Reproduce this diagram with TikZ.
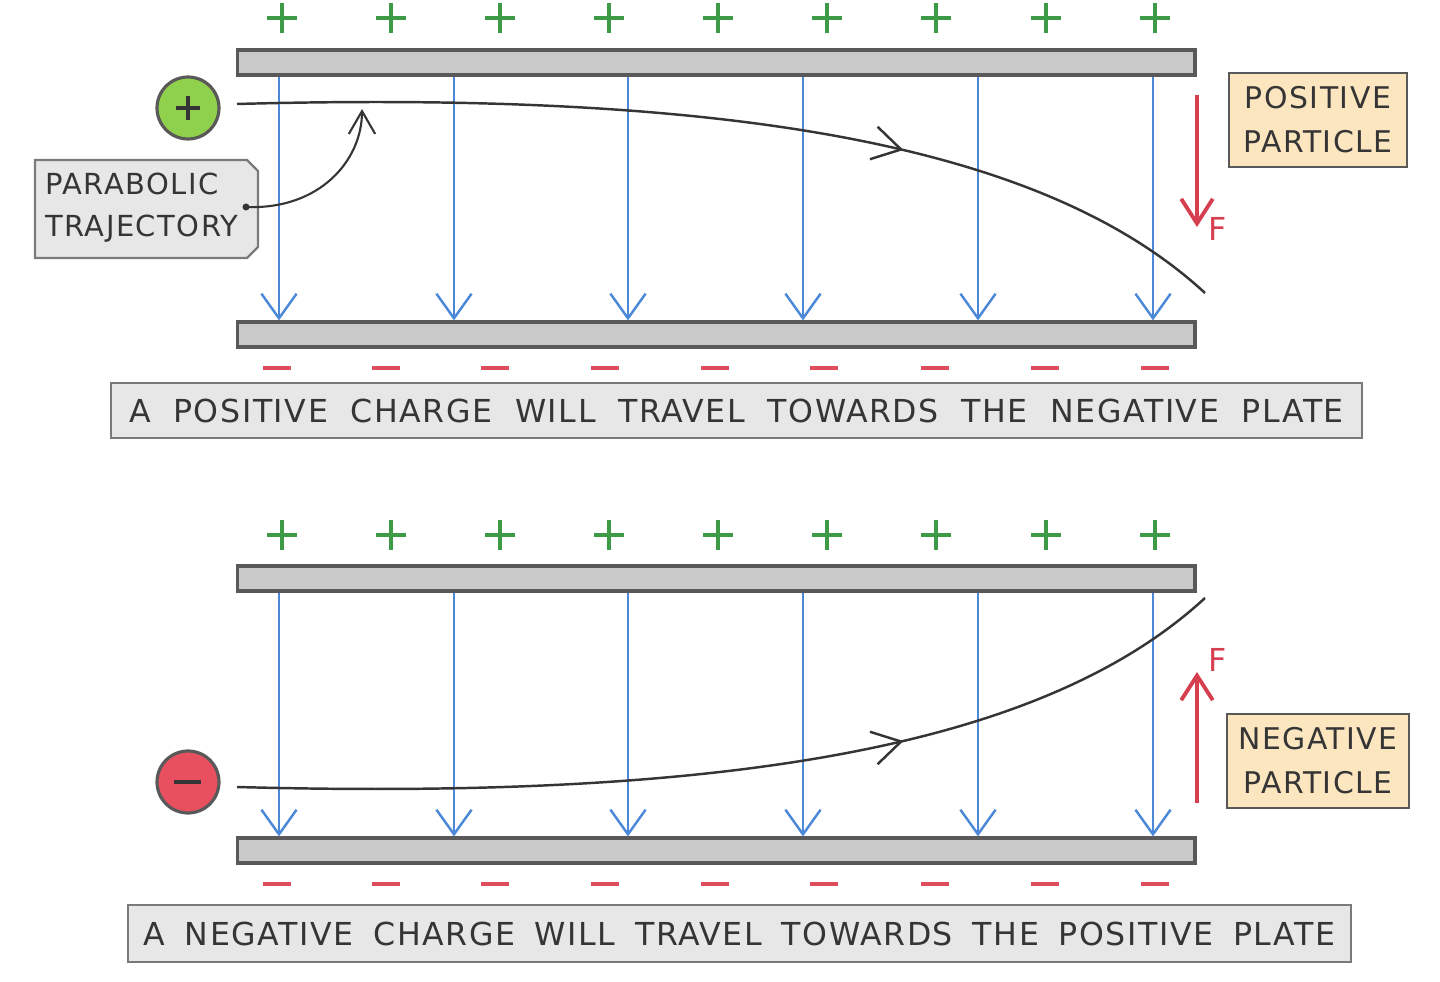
\documentclass[tikz,border=0pt]{standalone}
\usepackage{fontspec}
\setmainfont{DejaVu Sans}[LetterSpace=5]
\usetikzlibrary{arrows.meta,decorations.markings}

\definecolor{plategray}{HTML}{C9C9CA}
\definecolor{boxgray}{HTML}{E7E7E7}
\definecolor{edgegray}{HTML}{595959}
\definecolor{inkgray}{HTML}{353535}
\definecolor{plusgreen}{HTML}{3D9B48}
\definecolor{minusred}{HTML}{DE4D5C}
\definecolor{fieldblue}{HTML}{4C88D8}
\definecolor{forcered}{HTML}{D63F50}
\definecolor{ballgreen}{HTML}{8FD14C}
\definecolor{ballred}{HTML}{E8505F}
\definecolor{notecream}{HTML}{FBE6C0}

\tikzset{
  plate/.style={draw=edgegray,fill=plategray,line width=1.8pt,minimum width=19.16cm,minimum height=0.5cm,inner sep=0pt},
  fieldline/.style={draw=fieldblue,line width=1.4pt,-{Straight Barb[length=14pt,width=20pt]}},
  plusmark/.style={draw=plusgreen,line width=2.4pt},
  minusmark/.style={draw=minusred,line width=2.8pt},
  ball/.style={circle,draw=edgegray,line width=1.8pt,minimum size=1.24cm,inner sep=0pt},
  capbox/.style={draw=edgegray!80,fill=boxgray,line width=1.3pt,inner sep=0pt,text=inkgray,font=\fontsize{18}{22}\selectfont},
  notebox/.style={draw=edgegray,fill=notecream,line width=1.3pt,minimum height=1.88cm,inner sep=0pt,align=center,text=inkgray,font=\fontsize{17}{25}\selectfont},
  trajline/.style={draw=inkgray,line width=1.4pt,decoration={markings,mark=at position 0.665 with {\arrow{Straight Barb[length=16pt,width=19pt]}}},postaction={decorate}},
  force/.style={draw=forcered,line width=2.2pt,-{Straight Barb[length=14pt,width=18pt]}},
  forcetext/.style={text=forcered,inner sep=0pt,font=\fontsize{18}{18}\selectfont},
}

\begin{document}
\begin{tikzpicture}[x=0.02cm,y=-0.02cm]
    \useasboundingbox (0,0) rectangle (1440,982);

    % upper pair of plates
    \node[plate] (topA) at (716,62.5) {};
    \node[plate] (botA) at (716,334.5) {};
    \foreach \x in {279,454,628,803,978,1153}
        \draw[fieldline] (\x,0 |- topA.south) -- (\x,0 |- botA.north);
    \foreach \x in {282,391,500,609,718,827,936,1046,1155}
        \draw[plusmark] (\x-15,18) -- (\x+15,18) (\x,3) -- (\x,33);
    \foreach \x in {277,386,495,605,715,824,935,1045,1155}
        \draw[minusmark] (\x-14,368) -- (\x+14,368);

    \node[ball,fill=ballgreen] (posq) at (188,108) {};
    \draw[draw=inkgray,line width=2pt] (176,108) -- (200,108) (188,96) -- (188,120);
    \coordinate (enterA) at (237,104);
    \coordinate (exitA) at (1205,293);
    \draw[trajline] (enterA) .. controls (750,90) and (1050,150) .. (exitA);

    \fill[boxgray] (35,160) -- (247,160) -- (258,171) -- (258,247) -- (247,258) -- (35,258) -- cycle;
    \draw[edgegray!80,line width=1.3pt] (35,160) -- (247,160) -- (258,171) -- (258,247) -- (247,258) -- (35,258) -- cycle;
    \node[anchor=west,align=left,inner sep=0pt,text=inkgray,font=\fontsize{16.5}{24}\selectfont] (tag) at (45,208) {PARABOLIC\\TRAJECTORY};
    \coordinate (tagdot) at (246,207);
    \coordinate (tagtip) at (362,109);
    \fill[inkgray] (tagdot) circle (2pt);
    \draw[inkgray,line width=1.2pt,-{Straight Barb[length=13pt,width=15pt]}] (tagdot) .. controls (320,210) and (362,160) .. (tagtip);

    \node[notebox,minimum width=3.56cm] (posnote) at (1318,120) {POSITIVE\\PARTICLE};
    \coordinate (ftailA) at (1197,95);
    \coordinate (fheadA) at (1197,227);
    \draw[force] (ftailA) -- (fheadA);
    \node[forcetext] (fA) at (1218,229) {F};

    \node[capbox,minimum width=25.02cm,minimum height=1.1cm] (capA) at (736.5,410.5)
        {\makebox[24.3cm][s]{A POSITIVE CHARGE WILL TRAVEL TOWARDS THE NEGATIVE PLATE}};

    % lower pair of plates
    \node[plate] (topB) at (716,578.5) {};
    \node[plate] (botB) at (716,850.5) {};
    \foreach \x in {279,454,628,803,978,1153}
        \draw[fieldline] (\x,0 |- topB.south) -- (\x,0 |- botB.north);
    \foreach \x in {282,391,500,609,718,827,936,1046,1155}
        \draw[plusmark] (\x-15,535) -- (\x+15,535) (\x,520) -- (\x,550);
    \foreach \x in {277,386,495,605,715,824,935,1045,1155}
        \draw[minusmark] (\x-14,884) -- (\x+14,884);

    \node[ball,fill=ballred] (negq) at (188,782) {};
    \draw[draw=inkgray,line width=2.6pt] (174,782) -- (201,782);
    \coordinate (enterB) at (237,787);
    \coordinate (exitB) at (1205,598);
    \draw[trajline] (enterB) .. controls (750,801) and (1050,741) .. (exitB);

    \node[notebox,minimum width=3.64cm] (negnote) at (1318,761) {NEGATIVE\\PARTICLE};
    \coordinate (ftailB) at (1197,803);
    \coordinate (fheadB) at (1197,672);
    \draw[force] (ftailB) -- (fheadB);
    \node[forcetext] (fB) at (1218,660) {F};

    \node[capbox,minimum width=24.46cm,minimum height=1.14cm] (capB) at (739.5,933.5)
        {\makebox[23.84cm][s]{A NEGATIVE CHARGE WILL TRAVEL TOWARDS THE POSITIVE PLATE}};
\end{tikzpicture}
\end{document}
